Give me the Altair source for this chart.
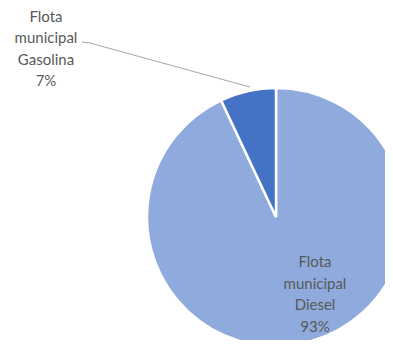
import altair as alt
import pandas as pd

categories = ["Flota municipal Diesel", "Flota municipal Gasolina"]
values = [93, 7]
labels = ["Flota\nmunicipal\nDiesel\n93%", "Flota\nmunicipal\nGasolina\n7%"]
colors = ["#8FAADC", "#4472C4"]

df = pd.DataFrame({"cat": categories, "val": values, "label": labels, "order": [0, 1]})

W, H = 377, 332
cx, cy, r = 268, 209, 129

base = alt.Chart(df)

pie = base.mark_arc(stroke="white", strokeWidth=2.5, outerRadius=r).encode(
    theta=alt.Theta("val:Q", stack=True),
    order=alt.Order("order:Q"),
    color=alt.Color("cat:N", scale=alt.Scale(domain=categories, range=colors), legend=None),
    x=alt.value(cx),
    y=alt.value(cy),
)

txt_style = dict(font="Lato", fontSize=15, color="#595959", lineBreak="\n",
                 lineHeight=21.5, align="center", baseline="middle")

diesel_txt = base.transform_filter(alt.datum.cat == categories[0]).mark_text(**txt_style).encode(
    text="label:N", x=alt.value(307), y=alt.value(254))
gas_txt = base.transform_filter(alt.datum.cat == categories[1]).mark_text(**txt_style).encode(
    text="label:N", x=alt.value(38), y=alt.value(8.5))

lead1 = base.transform_filter(alt.datum.cat == categories[1]).mark_rule(color="#A6A6A6", strokeWidth=1).encode(
    x=alt.value(74), y=alt.value(34), x2=alt.value(82), y2=alt.value(35))
lead2 = base.transform_filter(alt.datum.cat == categories[1]).mark_rule(color="#A6A6A6", strokeWidth=1).encode(
    x=alt.value(82), y=alt.value(35), x2=alt.value(242), y2=alt.value(79))

chart = alt.layer(pie, lead1, lead2, diesel_txt, gas_txt).properties(
    width=W, height=H, autosize=alt.AutoSizeParams(type="none"), padding=0
).configure_view(stroke=None)

chart.save("out.html", embed_options={"renderer": "svg", "actions": False})
